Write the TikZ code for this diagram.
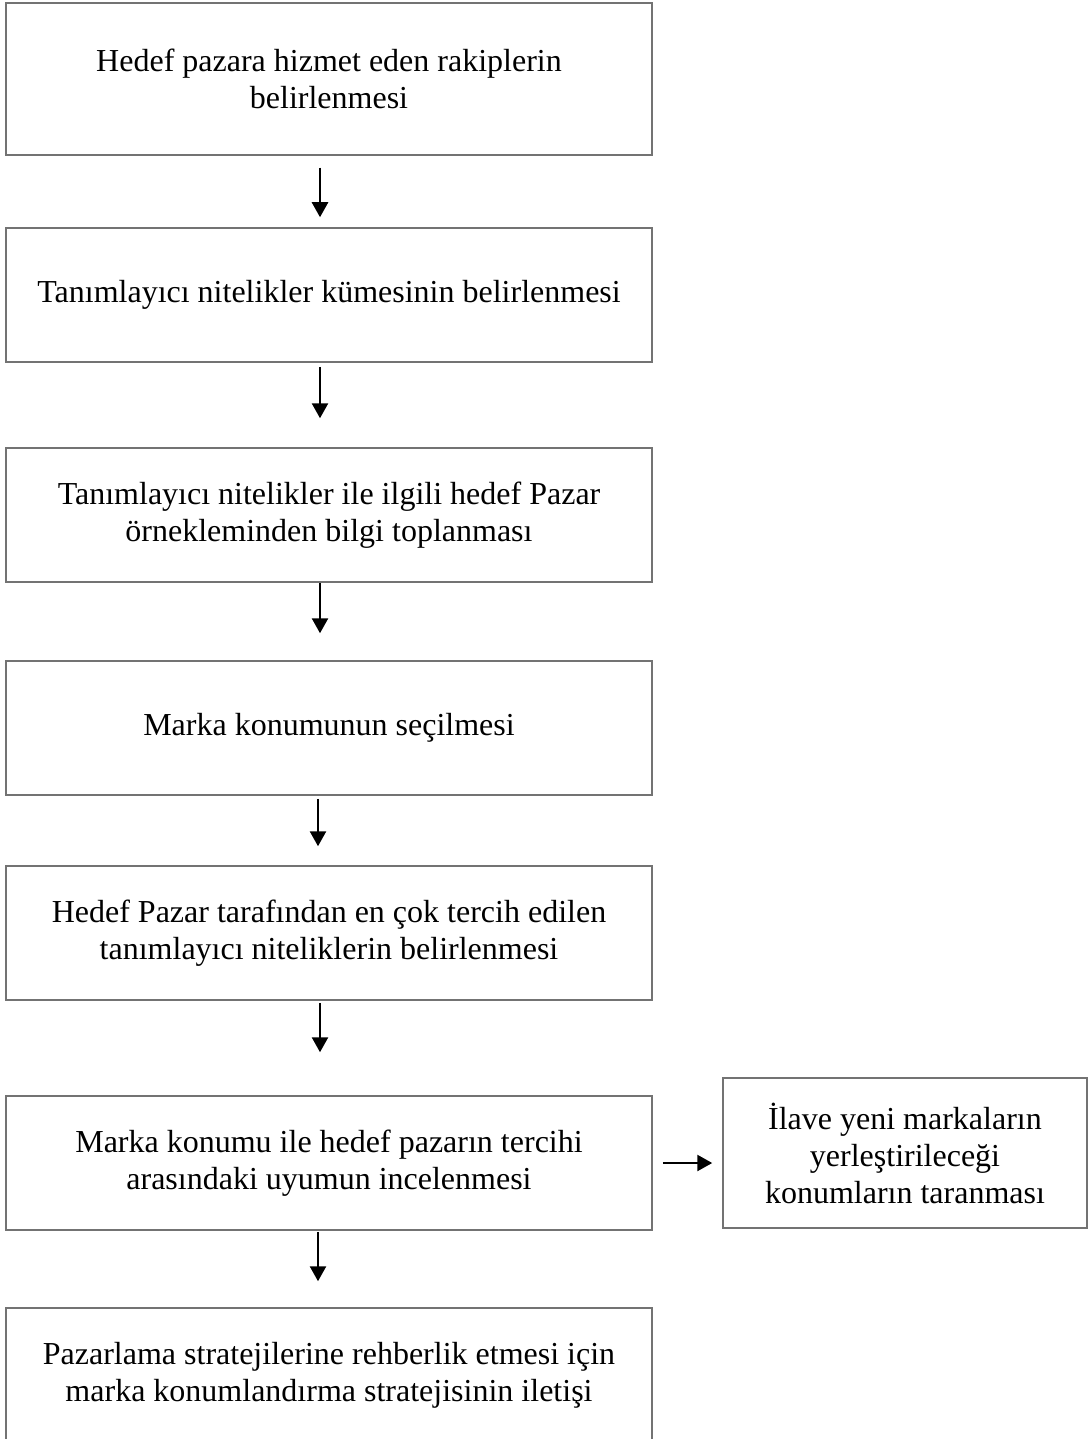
\documentclass[tikz,border=0pt]{standalone}
\usepackage{fontspec}
\setmainfont{Liberation Serif}
\usetikzlibrary{positioning,arrows.meta}

\begin{document}
\begin{tikzpicture}[auto,
            arrowstyle/.style={-{Triangle[length=15pt, width=16pt]}, line width=2.5pt}]
            % A box style
            \tikzstyle{boxnode} = [draw=black!55, line width=1.5pt, rectangle, align=center, minimum width=646pt, minimum height=134pt, inner sep=3pt, font=\fontsize{32pt}{37pt}\selectfont]
            \useasboundingbox (0,0) rectangle (1088pt,-1439pt);
            % Define the nodes
            \node (HP) [boxnode, minimum height=152pt] at (329pt,-79pt) {Hedef pazara hizmet eden rakiplerin\\belirlenmesi};
            \node (TN) [boxnode, below=71.5pt of HP] {Tanımlayıcı nitelikler kümesinin belirlenmesi};
            \node (BT) [boxnode, below=84.5pt of TN] {Tanımlayıcı nitelikler ile ilgili hedef Pazar\\örnekleminden bilgi toplanması};
            \node (MK) [boxnode, below=77.5pt of BT] {Marka konumunun seçilmesi};
            \node (TT) [boxnode, below=69.5pt of MK] {Hedef Pazar tarafından en çok tercih edilen\\tanımlayıcı niteliklerin belirlenmesi};
            \node (UI) [boxnode, below=94.5pt of TT] {Marka konumu ile hedef pazarın tercihi\\arasındaki uyumun incelenmesi};
            \node (IY) [boxnode, minimum width=364pt, minimum height=150pt, right=69.5pt of UI, yshift=10pt] {İlave yeni markaların\\yerleştirileceği\\konumların taranması};
            \node (PS) [boxnode, below=76.5pt of UI] {Pazarlama stratejilerine rehberlik etmesi için\\marka konumlandırma stratejisinin iletişi};

            % Draw the arrows down the chain
            \draw [arrowstyle, shorten <=12pt, shorten >=10pt] ([xshift=-9pt]HP.south) -- ([xshift=-9pt]TN.north);
            \draw [arrowstyle, shorten <=4pt, shorten >=29pt] ([xshift=-9pt]TN.south) -- ([xshift=-9pt]BT.north);
            \draw [arrowstyle, shorten >=27pt] ([xshift=-9pt]BT.south) -- ([xshift=-9pt]MK.north);
            \draw [arrowstyle, shorten <=3pt, shorten >=19pt] ([xshift=-11pt]MK.south) -- ([xshift=-11pt]TT.north);
            \draw [arrowstyle, shorten <=2pt, shorten >=43pt] ([xshift=-9pt]TT.south) -- ([xshift=-9pt]UI.north);
            \draw [arrowstyle, shorten <=1pt, shorten >=26pt] ([xshift=-11pt]UI.south) -- ([xshift=-11pt]PS.north);
            \draw [arrowstyle, shorten <=10pt, shorten >=10pt] (UI.east) -- (UI.east -| IY.west);
        \end{tikzpicture}
\end{document}
